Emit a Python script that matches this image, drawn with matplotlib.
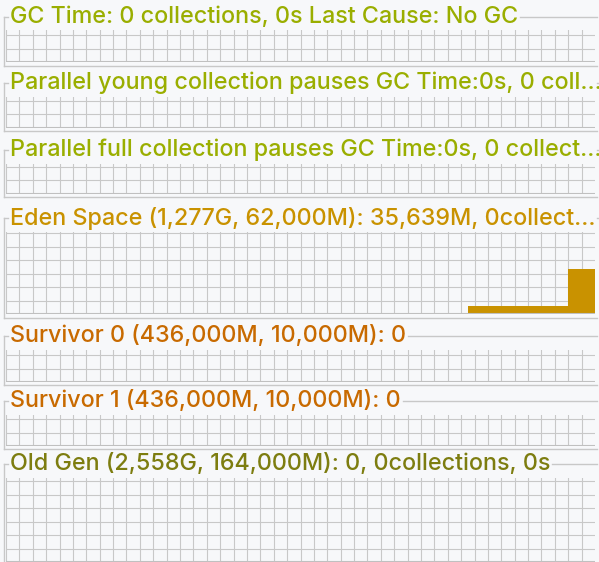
import matplotlib
matplotlib.use("Agg")
import matplotlib.pyplot as plt
from matplotlib.lines import Line2D
import numpy as np

W, H = 599, 562
titles = ["GC Time: 0 collections, 0s Last Cause: No GC",
          "Parallel young collection pauses GC Time:0s, 0 coll...",
          "Parallel full collection pauses GC Time:0s, 0 collect...",
          "Eden Space (1,277G, 62,000M): 35,639M, 0collect...",
          "Survivor 0 (436,000M, 10,000M): 0",
          "Survivor 1 (436,000M, 10,000M): 0",
          "Old Gen (2,558G, 164,000M): 0, 0collections, 0s"]
colors = ["#9aae00", "#9aae00", "#9aae00", "#c99200", "#c86a00", "#c86a00", "#7d7d10"]
panels = [(17, 30, 62, 66), (83, 97, 128, 131), (150, 164, 194, 197),
          (218, 232, 314, 318), (336, 350, 382, 385), (401, 415, 446, 449),
          (464, 478, 562, 562)]

eden_max = 62000
# Eden samples (M) across 88 time slots
eden_values = [0]*69 + [6000]*15 + [34000]*4

fig = plt.figure(figsize=(W/100, H/100), dpi=100)
fig.patch.set_facecolor("#f7f8fa")

def fx(x): return x / W
def fy(y): return 1 - y / H

for i, (t, (ty, pt, pb, bb)) in enumerate(zip(titles, panels)):
    txt = fig.text(fx(10), fy(ty), t, color=colors[i], fontsize=16.8,
                   family="Inter", fontweight="medium", va="center", ha="left")
    fig.canvas.draw()
    bbox = txt.get_window_extent()
    tend = bbox.x1 + 2
    lc = "#c8c8c8"
    fig.add_artist(Line2D([fx(4), fx(8)], [fy(ty), fy(ty)], color=lc, lw=1))
    fig.add_artist(Line2D([tend/W, fx(597)], [fy(ty), fy(ty)], color=lc, lw=1))
    fig.add_artist(Line2D([fx(4), fx(4)], [fy(ty), fy(bb)], color=lc, lw=1))
    if bb < H:
        fig.add_artist(Line2D([fx(4), fx(597)], [fy(bb), fy(bb)], color=lc, lw=1))
    ax = fig.add_axes([fx(6), fy(pb), fx(589), (pb - pt) / H])
    ax.set_facecolor("#f7f8fa")
    ax.set_xlim(0, 88)
    ax.set_ylim(0, 1)
    ax.set_xticks(np.arange(0, 88, 2))
    hstep = 13.5 / (pb - pt)
    ax.set_yticks(np.arange(0, 1, hstep))
    ax.grid(True, color="#c8c8c8", lw=0.8)
    ax.tick_params(length=0, labelbottom=False, labelleft=False)
    for s in ax.spines.values():
        s.set_visible(False)
    ax.axhline(0, color="#c0c0c0", lw=1.5)
    if i == 3:
        v = np.array(eden_values) / eden_max
        ax.fill_between(np.arange(len(v) + 1), np.append(v, v[-1]), step="post",
                        color="#c99200", lw=0)
    ax.set_axisbelow(True)

fig.savefig("out.png", dpi=100, facecolor=fig.get_facecolor())
